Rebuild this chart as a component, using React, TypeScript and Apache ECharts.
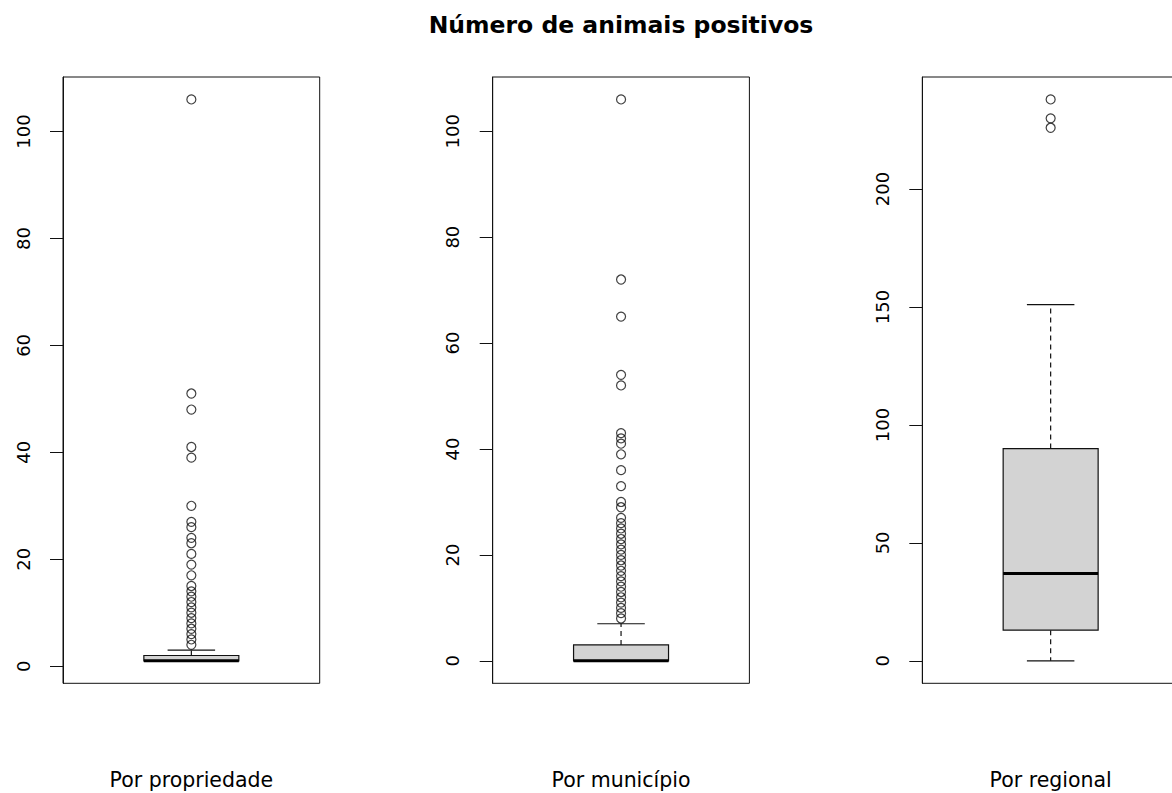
import React, { useEffect, useRef } from "react";
import * as echarts from "echarts";

const mainTitle = "Número de animais positivos";
const panelNames = ["Por propriedade", "Por município", "Por regional"];

// [lower whisker, Q1, median, Q3, upper whisker]
const propStats = [1, 1, 1, 2, 3];
const propOutliers = [4, 5, 6, 7, 8, 9, 10, 11, 12, 13, 14, 15, 17, 19, 21, 23, 24, 26, 27, 30, 39, 41, 48, 51, 106];

const munStats = [0, 0, 0, 3, 7];
const munOutliers = [8, 9, 10, 11, 12, 13, 14, 15, 16, 17, 18, 19, 20, 21, 22, 23, 24, 25, 26, 27, 29, 30, 33, 36, 39, 41, 42, 43, 52, 54, 65, 72, 106];

const regStats = [0, 13, 37, 90, 151];
const regOutliers = [226, 230, 238];

const propTicks = [0, 20, 40, 60, 80, 100];
const munTicks = [0, 20, 40, 60, 80, 100];
const regTicks = [0, 50, 100, 150, 200];

const allStats = [propStats, munStats, regStats];
const allOutliers = [propOutliers, munOutliers, regOutliers];
const allTicks = [propTicks, munTicks, regTicks];

const gridLefts = [63, 492.7, 922.3];
const gridWidth = 256.7;
const gridTop = 77;
const gridHeight = 606.3;
const FONT = "DejaVu Sans";
const CANVAS_W = 1190; // wider than the window; the third panel is cut at the edge

function rRange(stats: number[], outs: number[]) {
  const vals = stats.concat(outs);
  const lo = Math.min(...vals);
  const hi = Math.max(...vals);
  const e = (hi - lo) * 0.04;
  return [lo - e, hi + e];
}

export default function App() {
  const ref = useRef<HTMLDivElement>(null);
  useEffect(() => {
    if (!ref.current) return;
    const chart = echarts.init(ref.current, null, { renderer: "svg" });

    const grids = gridLefts.map((l) => ({
      left: l,
      top: gridTop,
      width: gridWidth,
      height: gridHeight,
      show: true,
      borderColor: "#111",
      borderWidth: 1,
      backgroundColor: "transparent",
    }));

    const xAxes = gridLefts.map((_, i) => ({
      type: "category",
      gridIndex: i,
      data: [panelNames[i]],
      axisLine: { show: false },
      axisTick: { show: false },
      axisLabel: { show: false },
      splitLine: { show: false },
    }));

    const yAxes = allStats.map((s, i) => {
      const [mn, mx] = rRange(s, allOutliers[i]);
      return {
        type: "value",
        gridIndex: i,
        min: mn,
        max: mx,
        axisLine: { show: true, lineStyle: { color: "#111", width: 1 } },
        axisTick: {
          show: true,
          length: 13,
          lineStyle: { color: "#111", width: 1 },
          customValues: allTicks[i],
        },
        axisLabel: {
          show: true,
          rotate: 90,
          margin: 31,
          color: "#000",
          fontFamily: FONT,
          fontSize: 18,
          customValues: allTicks[i],
        },
        splitLine: { show: false },
      };
    });

    const boxSeries = allStats.map((s, i) => ({
      type: "custom",
      xAxisIndex: i,
      yAxisIndex: i,
      encode: { x: 0, y: [1, 2, 3, 4, 5] },
      data: [[0, ...s]],
      renderItem: (params: any, api: any) => {
        const x = api.value(0);
        const lo = api.coord([x, api.value(1)]);
        const q1 = api.coord([x, api.value(2)]);
        const med = api.coord([x, api.value(3)]);
        const q3 = api.coord([x, api.value(4)]);
        const hi = api.coord([x, api.value(5)]);
        const band = api.size([1, 0])[0];
        const bw = band * 0.37;
        const cw = bw / 2;
        const cx = lo[0];
        const dash = { stroke: "#111", lineWidth: 1.2, lineDash: [5, 4] };
        const solid = { stroke: "#111", lineWidth: 1.2 };
        return {
          type: "group",
          children: [
            { type: "line", shape: { x1: cx, y1: q3[1], x2: cx, y2: hi[1] }, style: dash },
            { type: "line", shape: { x1: cx, y1: q1[1], x2: cx, y2: lo[1] }, style: dash },
            { type: "line", shape: { x1: cx - cw / 2, y1: hi[1], x2: cx + cw / 2, y2: hi[1] }, style: solid },
            { type: "line", shape: { x1: cx - cw / 2, y1: lo[1], x2: cx + cw / 2, y2: lo[1] }, style: solid },
            {
              type: "rect",
              shape: { x: cx - bw / 2, y: q3[1], width: bw, height: q1[1] - q3[1] },
              style: { fill: "#d3d3d3", stroke: "#111", lineWidth: 1.2 },
            },
            {
              type: "line",
              shape: { x1: cx - bw / 2, y1: med[1], x2: cx + bw / 2, y2: med[1] },
              style: { stroke: "#000", lineWidth: 3 },
            },
          ],
        };
      },
      z: 2,
    }));

    const outSeries = allOutliers.map((o, i) => ({
      type: "scatter",
      xAxisIndex: i,
      yAxisIndex: i,
      symbol: "circle",
      symbolSize: 9,
      itemStyle: { color: "transparent", borderColor: "#111", borderWidth: 1.2 },
      data: o.map((v) => [0, v]),
      z: 3,
    }));

    const graphics: any[] = [
      {
        type: "text",
        x: 621,
        y: 25,
        style: {
          text: mainTitle,
          font: `bold 23.5px "${FONT}"`,
          fill: "#000",
          textAlign: "center",
          textVerticalAlign: "middle",
        },
      },
      ...panelNames.map((n, i) => ({
        type: "text",
        x: gridLefts[i] + gridWidth / 2,
        y: 780,
        style: {
          text: n,
          font: `20.5px "${FONT}"`,
          fill: "#000",
          textAlign: "center",
          textVerticalAlign: "middle",
        },
      })),
    ];

    chart.setOption({
      animation: false,
      backgroundColor: "#fff",
      grid: grids,
      xAxis: xAxes,
      yAxis: yAxes,
      series: [...boxSeries, ...outSeries],
      graphic: graphics,
    });
    return () => chart.dispose();
  }, []);
  return (
    <div
      style={{
        position: "absolute",
        left: 0,
        top: 0,
        width: 1172,
        height: 793,
        overflow: "hidden",
        background: "#fff",
      }}
    >
      <div ref={ref} style={{ width: CANVAS_W, height: 793 }} />
    </div>
  );
}
